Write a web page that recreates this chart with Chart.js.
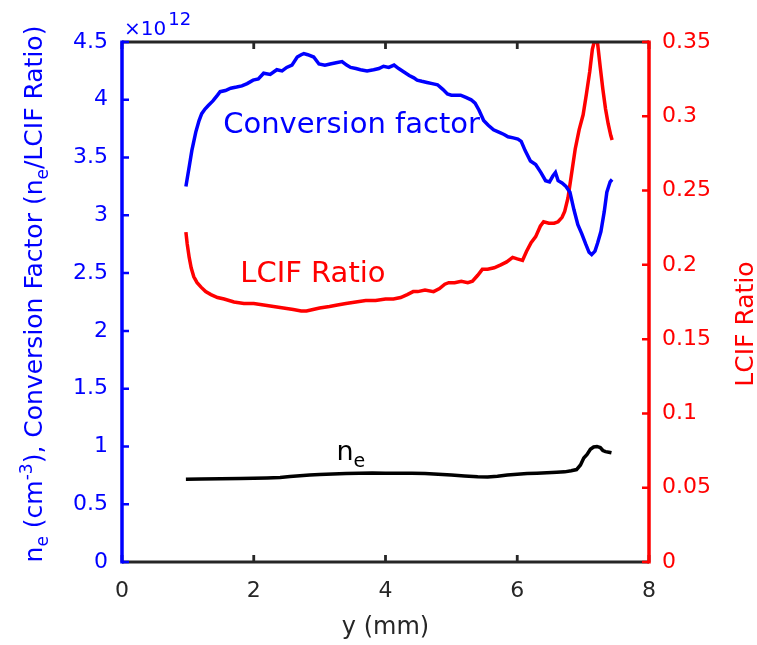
<!DOCTYPE html>
<html>
<head>
<meta charset="utf-8">
<script src="https://cdn.jsdelivr.net/npm/chart.js@4/dist/chart.umd.min.js"></script>
<style>
html,body{margin:0;padding:0;background:#ffffff;}
#wrap{width:757px;height:645px;position:relative;}
</style>
</head>
<body>
<div id="wrap"><canvas id="c" width="757" height="645"></canvas></div>
<script>
// ---- tick labels ----
const xTicks = [0, 2, 4, 6, 8];
const leftTicks = [0, 0.5, 1, 1.5, 2, 2.5, 3, 3.5, 4, 4.5];
const rightTicks = [0, 0.05, 0.1, 0.15, 0.2, 0.25, 0.3, 0.35];

// ---- Conversion factor (x10^12, left axis) ----
const cfX = [0.97,1.02,1.06,1.12,1.17,1.21,1.26,1.31,1.38,1.45,1.49,1.57,1.65,1.74,1.82,1.9,1.99,2.07,2.15,2.25,2.35,2.43,2.5,2.58,2.66,2.72,2.76,2.82,2.91,2.99,3.08,3.16,3.25,3.34,3.41,3.47,3.55,3.62,3.72,3.82,3.9,3.97,4.05,4.13,4.2,4.28,4.36,4.43,4.48,4.55,4.63,4.71,4.79,4.87,4.94,5.0,5.07,5.14,5.22,5.3,5.36,5.42,5.49,5.56,5.64,5.72,5.8,5.86,5.94,6.01,6.06,6.12,6.2,6.28,6.36,6.43,6.49,6.54,6.58,6.62,6.68,6.74,6.8,6.86,6.92,6.98,7.04,7.09,7.13,7.18,7.22,7.27,7.32,7.36,7.41,7.44];
const cfY = [3.25,3.42,3.56,3.72,3.82,3.88,3.92,3.95,3.99,4.04,4.07,4.08,4.1,4.11,4.12,4.14,4.17,4.18,4.23,4.22,4.26,4.25,4.28,4.3,4.37,4.39,4.4,4.39,4.37,4.31,4.3,4.31,4.32,4.33,4.3,4.28,4.27,4.26,4.25,4.26,4.27,4.29,4.28,4.3,4.27,4.24,4.21,4.19,4.17,4.16,4.15,4.14,4.13,4.09,4.05,4.04,4.04,4.04,4.02,4.0,3.97,3.91,3.82,3.78,3.74,3.72,3.7,3.68,3.67,3.66,3.64,3.56,3.47,3.44,3.37,3.3,3.29,3.34,3.37,3.3,3.28,3.25,3.2,3.05,2.92,2.84,2.75,2.68,2.66,2.69,2.76,2.86,3.03,3.2,3.29,3.31];

// ---- LCIF Ratio (right axis) ----
const lrX = [0.97,0.99,1.02,1.05,1.09,1.14,1.2,1.27,1.35,1.45,1.55,1.7,1.85,2.0,2.15,2.3,2.45,2.6,2.72,2.8,2.9,3.0,3.15,3.27,3.4,3.55,3.7,3.85,4.0,4.12,4.23,4.33,4.42,4.49,4.6,4.73,4.82,4.9,4.96,5.05,5.15,5.25,5.32,5.4,5.47,5.55,5.65,5.75,5.84,5.93,6.0,6.08,6.14,6.21,6.28,6.35,6.4,6.48,6.56,6.62,6.68,6.72,6.77,6.82,6.88,6.94,7.0,7.05,7.1,7.14,7.18,7.22,7.26,7.3,7.34,7.38,7.42,7.44];
const lrY = [0.222,0.214,0.205,0.198,0.192,0.188,0.185,0.182,0.18,0.178,0.177,0.175,0.174,0.174,0.173,0.172,0.171,0.17,0.169,0.169,0.17,0.171,0.172,0.173,0.174,0.175,0.176,0.176,0.177,0.177,0.178,0.18,0.182,0.182,0.183,0.182,0.184,0.187,0.188,0.188,0.189,0.188,0.189,0.193,0.197,0.197,0.198,0.2,0.202,0.205,0.204,0.203,0.209,0.215,0.219,0.226,0.229,0.228,0.228,0.229,0.232,0.236,0.245,0.26,0.278,0.291,0.301,0.315,0.33,0.345,0.352,0.349,0.333,0.318,0.305,0.295,0.287,0.284];

// ---- n_e (x10^12 cm^-3, left axis) ----
const neX = [0.97,1.2,1.5,1.8,2.0,2.2,2.4,2.55,2.7,2.85,3.0,3.2,3.4,3.6,3.8,4.0,4.2,4.4,4.6,4.8,5.0,5.2,5.4,5.55,5.7,5.85,6.0,6.15,6.3,6.45,6.6,6.72,6.82,6.9,6.96,7.01,7.06,7.11,7.16,7.21,7.26,7.3,7.34,7.39,7.43];
const neY = [0.716,0.718,0.72,0.722,0.724,0.727,0.732,0.74,0.747,0.752,0.758,0.762,0.765,0.768,0.77,0.769,0.768,0.767,0.765,0.76,0.752,0.745,0.738,0.735,0.742,0.752,0.76,0.765,0.768,0.772,0.776,0.78,0.79,0.8,0.84,0.9,0.93,0.975,0.995,1.0,0.99,0.965,0.955,0.95,0.945];

// ---- labels ----
const leftTitle = [["n",1,0],["e",0.68,0.22],[" (cm",1,0],["-3",0.68,-0.42],["), Conversion Factor (n",1,0],["e",0.68,0.22],["/LCIF Ratio)",1,0]];
const rightTitle = "LCIF Ratio";
const xTitle = "y (mm)";
const notes = [
  {text:"Conversion factor", sub:"", x:1.536, y:3.711, axis:"y", color:"#0000ff"},
  {text:"LCIF Ratio", sub:"", x:1.795, y:0.1885, axis:"y1", color:"#ff0000"},
  {text:"n", sub:"e", x:3.255, y:0.882, axis:"y", color:"#000000"}
];

const BLUE = "#0000ff", RED = "#ff0000", DARK = "#262626";
const FONT = "'DejaVu Sans', sans-serif";

function pts(xs, ys){ return xs.map((x,i)=>({x:x, y:ys[i]})); }

const framePlugin = {
  id: 'frame',
  afterDraw(chart){
    const ctx = chart.ctx;
    const a = chart.chartArea;
    const sx = chart.scales.x, sy = chart.scales.y, sy1 = chart.scales.y1;
    const TL = 7;
    ctx.save();
    ctx.lineCap = 'butt';
    // top & bottom black axes
    ctx.strokeStyle = DARK; ctx.lineWidth = 2.8;
    ctx.beginPath();
    ctx.moveTo(a.left, a.bottom); ctx.lineTo(a.right, a.bottom);
    ctx.moveTo(a.left, a.top); ctx.lineTo(a.right, a.top);
    xTicks.forEach(v=>{
      const px = sx.getPixelForValue(v);
      ctx.moveTo(px, a.bottom); ctx.lineTo(px, a.bottom - TL);
      ctx.moveTo(px, a.top); ctx.lineTo(px, a.top + TL);
    });
    ctx.stroke();
    // left blue axis
    ctx.strokeStyle = BLUE; ctx.lineWidth = 3.5;
    ctx.beginPath();
    ctx.moveTo(a.left, a.top - 1.4); ctx.lineTo(a.left, a.bottom + 1.4);
    ctx.stroke();
    ctx.lineWidth = 2.5;
    ctx.beginPath();
    leftTicks.forEach(v=>{
      const py = sy.getPixelForValue(v);
      ctx.moveTo(a.left, py); ctx.lineTo(a.left + TL, py);
    });
    ctx.stroke();
    // right red axis
    ctx.strokeStyle = RED; ctx.lineWidth = 3.5;
    ctx.beginPath();
    ctx.moveTo(a.right, a.top - 1.4); ctx.lineTo(a.right, a.bottom + 1.4);
    ctx.stroke();
    ctx.lineWidth = 2.5;
    ctx.beginPath();
    rightTicks.forEach(v=>{
      const py = sy1.getPixelForValue(v);
      ctx.moveTo(a.right, py); ctx.lineTo(a.right - TL, py);
    });
    ctx.stroke();

    // exponent label x10^12
    ctx.fillStyle = BLUE;
    ctx.textBaseline = 'alphabetic';
    ctx.textAlign = 'left';
    ctx.font = "20px " + FONT;
    ctx.fillText("\u00d710", a.left + 2, 35);
    const w10 = ctx.measureText("\u00d710").width;
    ctx.font = "18px " + FONT;
    ctx.fillText("12", a.left + 2 + w10 + 2, 25);

    // left title (rotated)
    const LS = 25;
    let total = 0;
    leftTitle.forEach(s=>{ ctx.font = (LS*s[1]) + "px " + FONT; total += ctx.measureText(s[0]).width; });
    ctx.save();
    ctx.translate(42, (a.top + a.bottom)/2 - 8);
    ctx.rotate(-Math.PI/2);
    let cx = -total/2;
    leftTitle.forEach(s=>{
      ctx.font = (LS*s[1]) + "px " + FONT;
      ctx.fillText(s[0], cx, s[2]*LS);
      cx += ctx.measureText(s[0]).width;
    });
    ctx.restore();

    // right title (rotated, reads bottom to top)
    ctx.save();
    ctx.fillStyle = RED;
    ctx.font = "25px " + FONT;
    ctx.textAlign = 'center';
    ctx.translate(753, (a.top + a.bottom)/2 + 22);
    ctx.rotate(-Math.PI/2);
    ctx.fillText(rightTitle, 0, 0);
    ctx.restore();

    // in-plot annotations
    notes.forEach(n=>{
      const px = sx.getPixelForValue(n.x);
      const py = chart.scales[n.axis].getPixelForValue(n.y);
      ctx.fillStyle = n.color;
      ctx.textAlign = 'left';
      const fs = n.sub ? 27 : 29;
      ctx.font = fs + "px " + FONT;
      ctx.fillText(n.text, px, py);
      if (n.sub){
        const w = ctx.measureText(n.text).width;
        ctx.font = Math.round(fs*0.7) + "px " + FONT;
        ctx.fillText(n.sub, px + w, py + 7);
      }
    });
    ctx.restore();
  }
};

new Chart(document.getElementById('c'), {
  type: 'line',
  data: {
    datasets: [
      {label:'Conversion factor', data: pts(cfX, cfY), yAxisID:'y', borderColor: BLUE, borderWidth: 3.5, pointRadius: 0, tension: 0, fill: false},
      {label:'LCIF Ratio', data: pts(lrX, lrY), yAxisID:'y1', borderColor: RED, borderWidth: 3.5, pointRadius: 0, tension: 0, fill: false},
      {label:'n_e', data: pts(neX, neY), yAxisID:'y', borderColor: '#000000', borderWidth: 3.5, pointRadius: 0, tension: 0, fill: false}
    ]
  },
  options: {
    responsive: false,
    animation: false,
    devicePixelRatio: 1,
    layout: { padding: { top: 42, left: 0, right: 0, bottom: 0 } },
    plugins: { legend: { display: false }, tooltip: { enabled: false } },
    scales: {
      x: {
        type: 'linear', position: 'bottom', min: 0, max: 8,
        afterBuildTicks: s => { s.ticks = xTicks.map(v => ({value: v})); },
        afterFit: s => { s.height = 83; },
        grid: { display: false, drawTicks: false },
        border: { display: false },
        ticks: { color: DARK, font: { family: FONT, size: 22 }, padding: 16, maxRotation: 0, callback: v => String(v) },
        title: { display: true, text: xTitle, color: DARK, font: { family: FONT, size: 24 }, padding: { top: 0, bottom: 3 } }
      },
      y: {
        type: 'linear', position: 'left', min: 0, max: 4.5,
        afterBuildTicks: s => { s.ticks = leftTicks.map(v => ({value: v})); },
        afterFit: s => { s.width = 122; },
        grid: { display: false, drawTicks: false },
        border: { display: false },
        ticks: { color: BLUE, font: { family: FONT, size: 22 }, padding: 14, callback: v => String(v) }
      },
      y1: {
        type: 'linear', position: 'right', min: 0, max: 0.35,
        afterBuildTicks: s => { s.ticks = rightTicks.map(v => ({value: v})); },
        afterFit: s => { s.width = 108; },
        grid: { display: false, drawTicks: false },
        border: { display: false },
        ticks: { color: RED, font: { family: FONT, size: 22 }, padding: 13, callback: v => String(v) }
      }
    }
  },
  plugins: [framePlugin]
});
</script>
</body>
</html>
